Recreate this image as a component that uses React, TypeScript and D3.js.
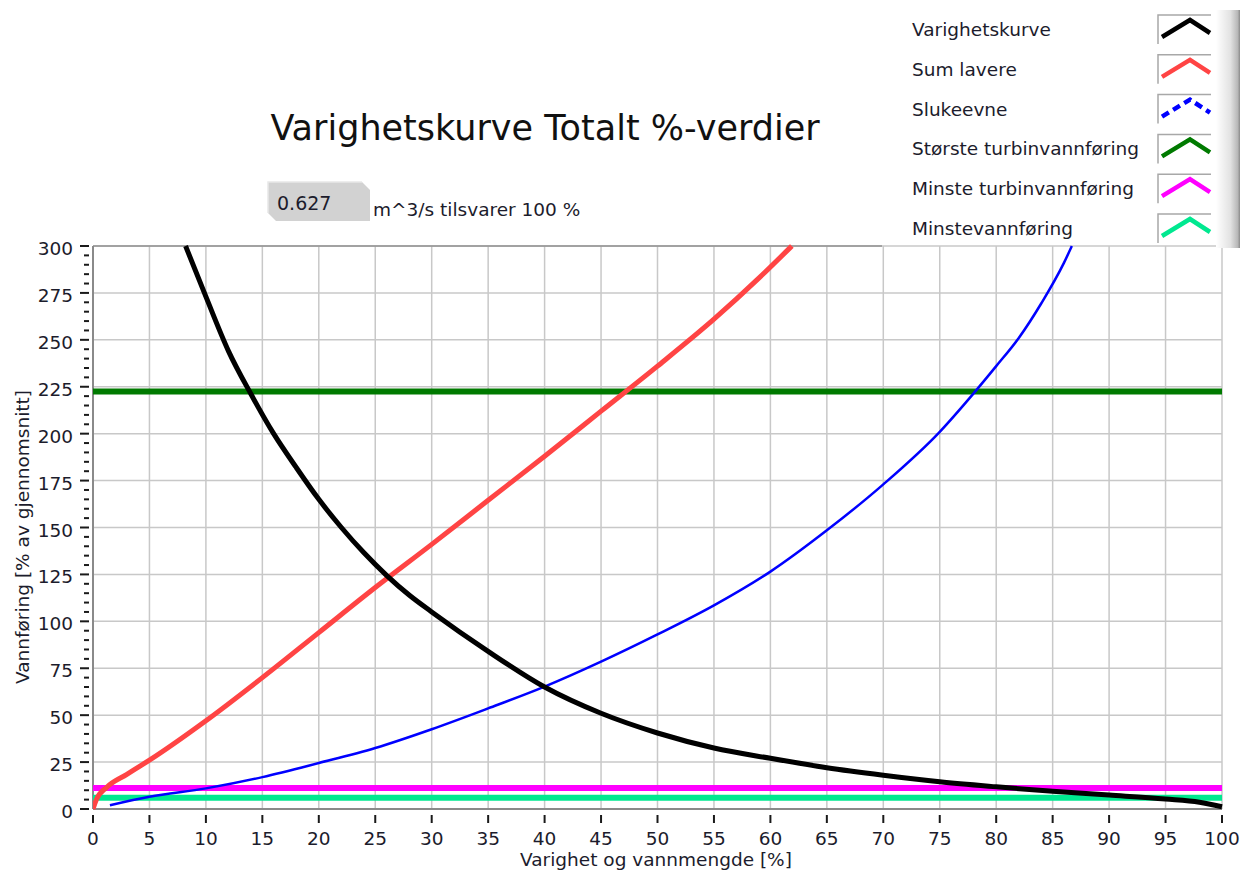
import * as d3 from "d3";

// Varighetskurve (duration curve)
const durationX = [8.2, 10, 12, 14, 16, 18, 20, 22, 24, 26, 28, 30, 35, 40, 45, 50, 55, 60, 65, 70, 75, 80, 85, 90, 95, 98, 100];
const durationY = [300, 273, 244, 221, 200, 182, 165, 150, 136.5, 124.5, 114, 105, 84, 65, 51, 40.5, 32.5, 27, 22, 18, 14.5, 11.8, 9.4, 7.4, 5.3, 3.6, 1.2];

// Sum lavere
const sumLowerX = [0, 0.3, 1.2, 3, 5, 10, 15, 20, 25, 30, 35, 40, 45, 50, 55, 59, 61.9];
const sumLowerY = [0, 5, 11.5, 18.5, 26, 47, 70, 94, 118, 141, 164.5, 188, 212, 236, 261, 283, 300];

// Slukeevne
const capacityX = [1.5, 5, 10, 15, 20, 25, 30, 35, 40, 45, 50, 55, 60, 65, 70, 75, 78, 80, 82, 84, 86, 86.7];
const capacityY = [2, 6.5, 11, 17, 24.5, 32.5, 42.5, 53.6, 65.2, 78.5, 93, 108.5, 126.5, 148.5, 173, 201, 221.5, 236, 251, 269.5, 291, 300];

// constant levels
const maxTurbineFlow = 222.5;
const minTurbineFlow = 11.2;
const minFlow = 6;

const legendNames = ["Varighetskurve", "Sum lavere", "Slukeevne", "Største turbinvannføring", "Minste turbinvannføring", "Minstevannføring"];
const legendColors = ["#000000", "#ff4444", "#0000ff", "#007a00", "#ff00ff", "#00e890"];

const xTicks = d3.range(0, 101, 5);
const yTicks = d3.range(0, 301, 25);
const yMinorTicks = d3.range(0, 301, 5).filter((v) => v % 25 !== 0);

const FONT = "'DejaVu Sans', sans-serif";
const TEXT = "#1c1c2c";

export default function App() {
  const width = 1247;
  const height = 878;
  const left = 93, right = 1222, top = 246, bottom = 809;

  const x = d3.scaleLinear().domain([0, 100]).range([left, right]);
  const y = d3.scaleLinear().domain([0, 300]).range([bottom, top]);

  const line = d3
    .line<[number, number]>()
    .x((d) => x(d[0]))
    .y((d) => y(d[1]))
    .curve(d3.curveMonotoneX);

  const zip = (xs: number[], ys: number[]) => xs.map((v, i) => [v, ys[i]] as [number, number]);

  const hLines = [
    { v: minFlow, color: legendColors[5] },
    { v: minTurbineFlow, color: legendColors[4] },
    { v: maxTurbineFlow, color: legendColors[3] },
  ];

  const rowY = (i: number) => 30 + i * 39.8;

  return (
    <svg
      width={width}
      height={height}
      style={{ position: "absolute", left: 0, top: 0, background: "#fff" }}
      fontFamily={FONT}
    >
      <defs>
        <clipPath id="plot">
          <rect x={left} y={top - 2} width={right - left + 2} height={bottom - top + 4} />
        </clipPath>
        <linearGradient id="scroll" x1="0" x2="1" y1="0" y2="0">
          <stop offset="0" stopColor="#ffffff" />
          <stop offset="0.6" stopColor="#e2e2e2" />
          <stop offset="0.9" stopColor="#b8b8b8" />
          <stop offset="1" stopColor="#8a8a8a" />
        </linearGradient>
      </defs>

      {/* title */}
      <text x={545} y={140} textAnchor="middle" fontSize={35} fill="#111">
        Varighetskurve Totalt %-verdier
      </text>

      {/* numeric indicator */}
      <path d="M268,182 L362,182 L370,190 L370,221 L276,221 L268,213 Z" fill="#d2d2d2" />
      <path d="M268,213 L268,182 L362,182" fill="none" stroke="#e8e8e8" strokeWidth={1.5} />
      <text x={277} y={210} fontSize={19} fill={TEXT}>0.627</text>
      <text x={373} y={216} fontSize={18.5} fill={TEXT}>m^3/s tilsvarer 100 %</text>

      {/* grid */}
      <g stroke="#c8c8c8" strokeWidth={1.5}>
        {xTicks.map((t) => (
          <line key={"gx" + t} x1={x(t)} x2={x(t)} y1={top} y2={bottom} />
        ))}
        {yTicks.map((t) => (
          <line key={"gy" + t} x1={left} x2={right} y1={y(t)} y2={y(t)} />
        ))}
      </g>
      <line x1={left} x2={882} y1={top} y2={top} stroke="#909090" strokeWidth={1.5} />
      <line x1={left} x2={left} y1={top} y2={bottom} stroke="#8a8a8a" strokeWidth={2} />
      <line x1={left} x2={right} y1={bottom} y2={bottom} stroke="#8a8a8a" strokeWidth={2} />

      {/* ticks */}
      <g stroke="#1a1a1a" strokeWidth={2}>
        {yTicks.map((t) => (
          <line key={"yt" + t} x1={80} x2={89} y1={y(t)} y2={y(t)} />
        ))}
        {yMinorTicks.map((t) => (
          <line key={"ym" + t} x1={84} x2={89} y1={y(t)} y2={y(t)} />
        ))}
        {xTicks.map((t) => (
          <line key={"xt" + t} x1={x(t)} x2={x(t)} y1={815} y2={823} />
        ))}
      </g>
      <g fontSize={18.5} fill={TEXT}>
        {yTicks.map((t) => (
          <text key={"yl" + t} x={73} y={y(t) + 9} textAnchor="end">
            {t}
          </text>
        ))}
        {xTicks.map((t) => (
          <text key={"xl" + t} x={x(t)} y={845} textAnchor="middle">
            {t}
          </text>
        ))}
      </g>
      <text x={656} y={866} textAnchor="middle" fontSize={18.5} fill={TEXT}>
        Varighet og vannmengde [%]
      </text>
      <text transform="translate(29,537) rotate(-90)" textAnchor="middle" fontSize={18.5} fill={TEXT}>
        Vannføring [% av gjennomsnitt]
      </text>

      {/* series */}
      <g clipPath="url(#plot)" fill="none">
        {hLines.map((h) => (
          <line key={h.color} x1={left} x2={right} y1={y(h.v)} y2={y(h.v)} stroke={h.color} strokeWidth={6} />
        ))}
        <path d={line(zip(capacityX, capacityY)) || ""} stroke={legendColors[2]} strokeWidth={2.5} />
        <path d={line(zip(sumLowerX, sumLowerY)) || ""} stroke={legendColors[1]} strokeWidth={5} />
        <path d={line(zip(durationX, durationY)) || ""} stroke={legendColors[0]} strokeWidth={5} />
      </g>

      {/* legend */}
      <g>
        {legendNames.map((name, i) => (
          <g key={name}>
            <text x={912} y={rowY(i) + 6} fontSize={18.5} fill={TEXT}>
              {name}
            </text>
            <path
              d={`M1158,${rowY(i) + 14} L1158,${rowY(i) - 15} L1211,${rowY(i) - 15}`}
              fill="none"
              stroke="#a8a8a8"
              strokeWidth={1.5}
            />
            <path
              d={`M1162,${rowY(i) + 7} L1190,${rowY(i) - 10} L1210,${rowY(i) + 3}`}
              fill="none"
              stroke={legendColors[i]}
              strokeWidth={4.5}
              strokeDasharray={i === 2 ? "8,5" : undefined}
            />
          </g>
        ))}
        <rect x={1216} y={10} width={24} height={238} fill="url(#scroll)" />
      </g>
    </svg>
  );
}
